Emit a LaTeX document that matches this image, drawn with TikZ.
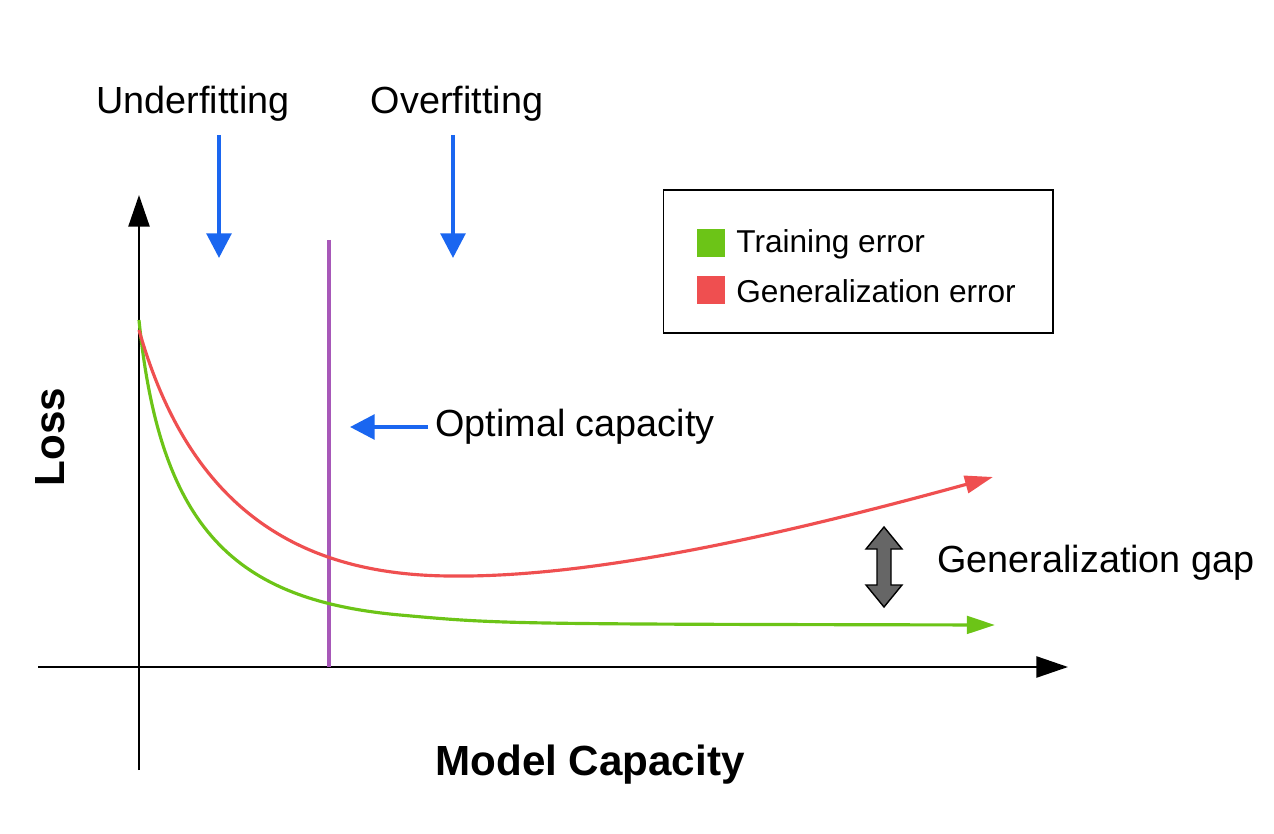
\documentclass[tikz,border=0pt]{standalone}
\usepackage{fontspec}
\setmainfont{Liberation Sans}
\usetikzlibrary{arrows.meta}
\definecolor{bl}{HTML}{1A66F0}
\definecolor{gr}{HTML}{6CC417}
\definecolor{rd}{HTML}{EF4F50}
\definecolor{pu}{HTML}{A758B8}
\begin{document}
\begin{tikzpicture}[x=0.02cm,y=-0.02cm,
  lbl/.style={font=\fontsize{21.5}{25}\selectfont,inner sep=0},
  bar/.style={draw=bl,line width=2.2pt,-{Triangle[length=14pt,width=14pt]}}]
\useasboundingbox (0,0) rectangle (1274,834);
% axes
\draw[line width=1.2pt,-{Triangle[length=18pt,width=12pt]}] (139,770) -- (139,195);
\draw[line width=1.2pt,-{Triangle[length=18pt,width=12pt]}] (38,667) -- (1068,667);
\draw[pu,line width=2pt] (329,240) -- (329,667);
% curves
\draw[gr,line width=1.8pt,-{Triangle[length=16pt,width=10pt]}] (139,320) .. controls (160,530) and (235,600) .. (400,615) .. controls (500,624) .. (995,625);
\draw[rd,line width=1.8pt,-{Triangle[length=16pt,width=10pt]}] (139,330) .. controls (190,510) and (300,575) .. (450,576) .. controls (600,578) and (800,530) .. (993,477);
% labels
\node[lbl] (uf) at (193,104) {Underfitting};
\node[lbl] (of) at (457,104) {Overfitting};
\coordinate (ufe) at (219,258);
\coordinate (ofe) at (453,258);
\draw[bar] (219,135) -- (ufe);
\draw[bar] (453,135) -- (ofe);
\node[lbl,anchor=west] (oc) at (435,427) {Optimal capacity};
\coordinate (oce) at (350,427);
\draw[bar] (428,427) -- (oce);
% legend
\node[draw,line width=0.6pt,minimum width=7.8cm,minimum height=2.86cm,inner sep=0] (lg) at (858,261.5) {};
\node[fill=gr,minimum size=0.55cm,inner sep=0] (gs) at (711,243) {};
\node[fill=rd,minimum size=0.55cm,inner sep=0] (rs) at (711,290) {};
\node[lbl,anchor=west,font=\fontsize{18}{21}\selectfont] (tl) at (736,244) {Training error};
\node[lbl,anchor=west,font=\fontsize{18}{21}\selectfont] (gl) at (736,291) {Generalization error};
% gap arrow
\filldraw[fill=black!60,draw=black,line width=0.8pt] (884,527) -- (902,549) -- (891,549) -- (891,585) -- (902,585) -- (884,607) -- (866,585) -- (877,585) -- (877,549) -- (866,549) -- cycle;
\node[lbl,anchor=west] (gg) at (937,563) {Generalization gap};
% axis titles
\node[lbl,font=\fontsize{24}{28}\selectfont\bfseries,rotate=90] (loss) at (50,437) {Loss};
\node[lbl,font=\fontsize{24}{28}\selectfont\bfseries] (mc) at (590,765) {Model Capacity};
\end{tikzpicture}
\end{document}
